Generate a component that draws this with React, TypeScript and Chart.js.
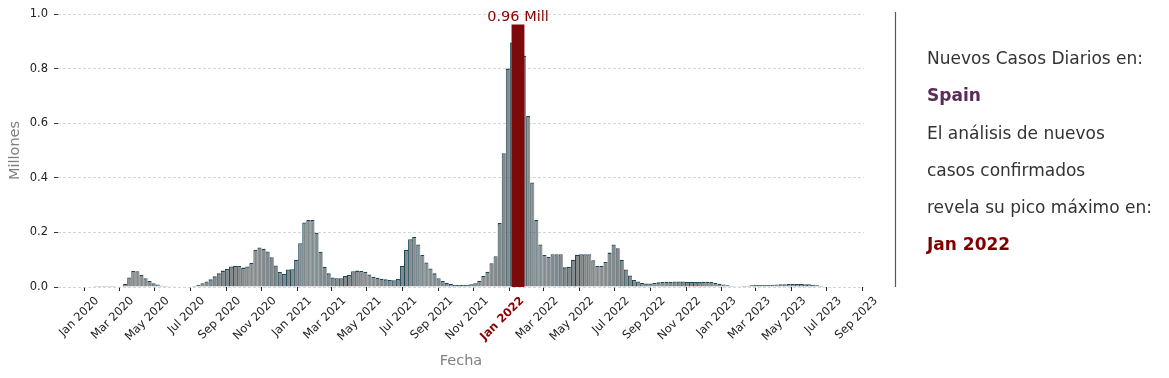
import React, { useEffect, useRef } from 'react';
import { Chart, registerables } from 'chart.js';

Chart.register(...registerables);

// ---------- data ----------
const firstWeekStart = '2020-01-19'; // weekly bars, each covering 7 days from this Sunday
const cases2020 = [
  0.0003, 0.0003, 0.0003, 0.0003, 0.0004, 0.0005, 0.001,
  0.012, 0.035, 0.059, 0.058, 0.044, 0.032, 0.022, 0.014, 0.009, 0.005,
  0.004, 0.003, 0.003, 0.002, 0.002, 0.002, 0.002, 0.004,
  0.008, 0.014, 0.02, 0.028, 0.039, 0.05, 0.06, 0.066, 0.075, 0.078,
  0.077, 0.071, 0.075, 0.089, 0.136, 0.145, 0.14, 0.13, 0.109, 0.079,
  0.055, 0.048, 0.064, 0.065, 0.1,
];
const cases2021 = [
  0.16, 0.236, 0.245, 0.245, 0.199, 0.129, 0.074, 0.05, 0.035, 0.032,
  0.032, 0.04, 0.044, 0.058, 0.06, 0.059, 0.056, 0.046, 0.037, 0.034,
  0.03, 0.028, 0.026, 0.025, 0.029, 0.078, 0.136, 0.175, 0.183, 0.156,
  0.117, 0.09, 0.068, 0.05, 0.032, 0.022, 0.016, 0.011, 0.008, 0.007,
  0.007, 0.007, 0.01, 0.014, 0.023, 0.04, 0.056, 0.087, 0.113, 0.234,
  0.49, 0.8,
];
const cases2022 = [
  0.896, 0.96, 0.92, 0.847, 0.626, 0.383, 0.245, 0.156,
  0.117, 0.111, 0.12, 0.12, 0.12, 0.072, 0.074, 0.1, 0.118, 0.12,
  0.12, 0.12, 0.098, 0.077, 0.078, 0.092, 0.126, 0.156, 0.142, 0.1,
  0.064, 0.042, 0.026, 0.02, 0.015, 0.013, 0.013, 0.015, 0.017, 0.018,
  0.019, 0.019, 0.02, 0.02, 0.02, 0.019, 0.019, 0.018, 0.018, 0.019,
  0.019, 0.018, 0.015, 0.012,
];
const cases2023 = [
  0.009, 0.006, 0.004, 0.003, 0.003, 0.004,
  0.005, 0.006, 0.007, 0.007, 0.007, 0.007, 0.008, 0.009, 0.01, 0.01,
  0.011, 0.011, 0.011, 0.011, 0.01, 0.01, 0.008, 0.006, 0.004, 0.002,
];

const peakDate = '2022-01-16';
const peakMonthLabel = 'Jan 2022';
const country = 'Spain';

const tickDates = [
  '2020-01-01', '2020-03-01', '2020-05-01', '2020-07-01', '2020-09-01', '2020-11-01',
  '2021-01-01', '2021-03-01', '2021-05-01', '2021-07-01', '2021-09-01', '2021-11-01',
  '2022-01-01', '2022-03-01', '2022-05-01', '2022-07-01', '2022-09-01', '2022-11-01',
  '2023-01-01', '2023-03-01', '2023-05-01', '2023-07-01', '2023-09-01',
];
const tickLabels = [
  'Jan 2020', 'Mar 2020', 'May 2020', 'Jul 2020', 'Sep 2020', 'Nov 2020',
  'Jan 2021', 'Mar 2021', 'May 2021', 'Jul 2021', 'Sep 2021', 'Nov 2021',
  'Jan 2022', 'Mar 2022', 'May 2022', 'Jul 2022', 'Sep 2022', 'Nov 2022',
  'Jan 2023', 'Mar 2023', 'May 2023', 'Jul 2023', 'Sep 2023',
];
const yTicks = [0, 0.2, 0.4, 0.6, 0.8, 1.0];

const panelLines = [
  'Nuevos Casos Diarios en:',
  country,
  'El análisis de nuevos',
  'casos confirmados',
  'revela su pico máximo en:',
  peakMonthLabel,
];

// ---------- helpers ----------
const FONT = "'DejaVu Sans', 'Liberation Sans', sans-serif";
const DAY = 86400000;
const ORIGIN = Date.UTC(2020, 0, 1);
const dayOf = (s: string) => {
  const [y, m, d] = s.split('-').map(Number);
  return (Date.UTC(y, m - 1, d) - ORIGIN) / DAY;
};

const values = [...cases2020, ...cases2021, ...cases2022, ...cases2023];
const startDay = dayOf(firstWeekStart);
const weekStartDays = values.map((_, i) => startDay + 7 * i);
const barPoints = values.map((v, i) => ({ x: weekStartDays[i] + 3.5, y: v }));
const peakValue = Math.max(...values);
const dataLo = weekStartDays[0];
const dataHi = weekStartDays[weekStartDays.length - 1] + 7;
const margin = (dataHi - dataLo) * 0.05;
const xMin = dataLo - margin;
const xMax = dataHi + margin;
const tickDays = tickDates.map(dayOf);

// layout (pixels)
const PLOT_LEFT = 58;
const PLOT_RIGHT = 864;
const pxPerDay = (PLOT_RIGHT - PLOT_LEFT) / (xMax - xMin);

export default function App() {
  const canvasRef = useRef<HTMLCanvasElement | null>(null);

  useEffect(() => {
    const canvas = canvasRef.current;
    if (!canvas) return;

    const overlay = {
      id: 'overlay',
      afterDatasetsDraw(chart: any) {
        const ctx = chart.ctx;
        const el = chart.getDatasetMeta(0).data[0];
        if (el) {
          ctx.save();
          ctx.font = `14.5px ${FONT}`;
          ctx.fillStyle = '#8b0000';
          ctx.textAlign = 'center';
          ctx.textBaseline = 'alphabetic';
          ctx.fillText(`${peakValue.toFixed(2)} Mill`, el.x, el.y - 4);
          ctx.restore();
        }
      },
      afterDraw(chart: any) {
        const ctx = chart.ctx;
        ctx.save();
        ctx.strokeStyle = '#4f5f4f';
        ctx.lineWidth = 1.2;
        ctx.beginPath();
        ctx.moveTo(895.5, 12);
        ctx.lineTo(895.5, 287);
        ctx.stroke();
        ctx.textAlign = 'left';
        ctx.textBaseline = 'alphabetic';
        panelLines.forEach((t, i) => {
          const y = 64.3 + i * 37.15;
          if (i === 1) {
            ctx.font = `bold 17px ${FONT}`;
            ctx.fillStyle = '#5b2a56';
          } else if (i === panelLines.length - 1) {
            ctx.font = `bold 17px ${FONT}`;
            ctx.fillStyle = '#800000';
          } else {
            ctx.font = `17px ${FONT}`;
            ctx.fillStyle = '#333333';
          }
          ctx.fillText(t, 927, y);
        });
        ctx.restore();
      },
    };

    Chart.defaults.font.family = FONT;

    const chart = new Chart(canvas, {
      type: 'bar',
      data: {
        datasets: [
          {
            label: 'peak',
            data: [{ x: dayOf(peakDate), y: peakValue }],
            backgroundColor: '#7d0a0a',
            borderWidth: 0,
            barThickness: 21 * pxPerDay,
            grouped: false,
            order: 0,
          } as any,
          {
            label: 'cases',
            data: barPoints,
            backgroundColor: '#888888',
            borderColor: '#1b4757',
            borderWidth: { top: 1.3, left: 1, right: 0.6, bottom: 0 },
            barThickness: 7 * pxPerDay,
            grouped: false,
            inflateAmount: 0,
            order: 1,
          } as any,
        ],
      },
      options: {
        responsive: false,
        animation: false,
        devicePixelRatio: 1,
        events: [],
        layout: { autoPadding: false, padding: { left: 0, right: 1169 - PLOT_RIGHT, top: 14, bottom: 0 } },
        plugins: { legend: { display: false }, tooltip: { enabled: false } },
        scales: {
          x: {
            type: 'linear',
            min: xMin,
            max: xMax,
            offset: false,
            afterBuildTicks: (s: any) => {
              s.ticks = tickDays.map((v) => ({ value: v }));
            },
            afterFit: (s: any) => {
              s.height = 91;
            },
            ticks: {
              autoSkip: false,
              minRotation: 45,
              maxRotation: 45,
              labelOffset: 13,
              padding: 3,
              callback: (_v: any, i: number) => tickLabels[i],
              color: (c: any) => (c.tick && c.tick.label === peakMonthLabel ? '#8b0000' : '#222222'),
              font: (c: any) => ({
                family: FONT,
                size: 11.5,
                weight: c.tick && c.tick.label === peakMonthLabel ? 'bold' : 'normal',
              }),
            },
            grid: {
              display: true,
              offset: false,
              drawOnChartArea: false,
              drawTicks: true,
              tickLength: 4,
              tickColor: '#222222',
              tickWidth: 1,
            },
            border: { display: false },
            title: {
              display: true,
              text: 'Fecha',
              color: '#808080',
              font: { family: FONT, size: 14.5 },
              padding: { top: 0, bottom: 8 },
            },
          } as any,
          y: {
            type: 'linear',
            min: 0,
            max: 1,
            afterBuildTicks: (s: any) => {
              s.ticks = yTicks.map((v) => ({ value: v }));
            },
            afterFit: (s: any) => {
              s.width = PLOT_LEFT;
            },
            ticks: {
              padding: 6,
              color: '#222222',
              font: { family: FONT, size: 11.5 },
              callback: (v: any) => Number(v).toFixed(1),
            },
            grid: {
              color: '#cccccc',
              lineWidth: 0.8,
              drawTicks: true,
              tickLength: 4,
              tickColor: '#333333',
              tickWidth: 1,
            },
            border: { display: false, dash: [3, 2] },
            title: {
              display: true,
              text: 'Millones',
              color: '#808080',
              font: { family: FONT, size: 14.5 },
              padding: { top: 7, bottom: 0 },
            },
          } as any,
        },
      } as any,
      plugins: [overlay],
    });

    return () => chart.destroy();
  }, []);

  return (
    <div style={{ position: 'fixed', left: 0, top: 0, width: 1169, height: 378, background: '#ffffff' }}>
      <canvas ref={canvasRef} width={1169} height={378} style={{ width: 1169, height: 378, display: 'block' }} />
    </div>
  );
}
